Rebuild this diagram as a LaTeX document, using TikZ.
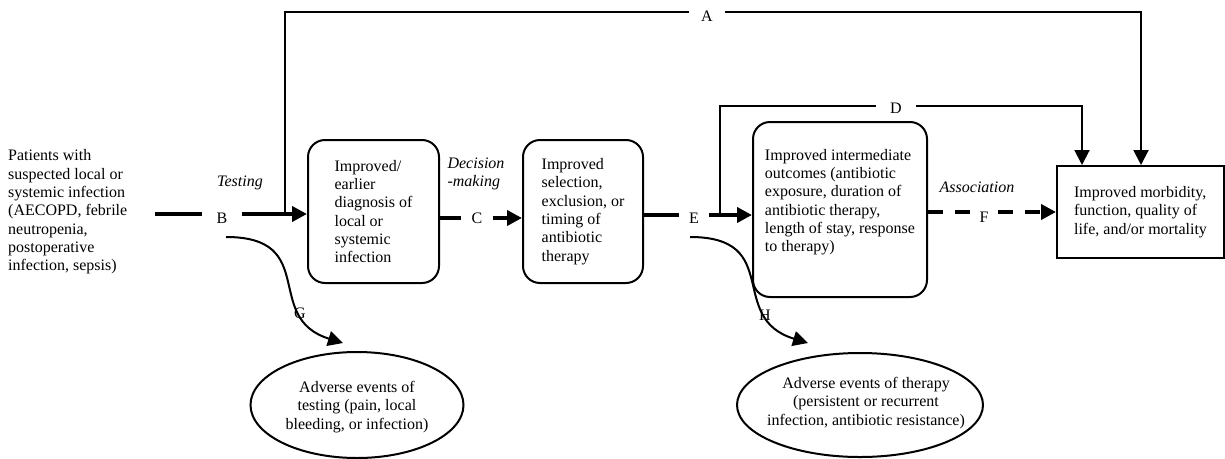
\documentclass[tikz,border=0pt]{standalone}
\usepackage{fontspec}
\setmainfont{Liberation Serif}
\usetikzlibrary{arrows.meta,shapes.geometric}
\begin{document}
\begin{tikzpicture}[x=1pt,y=-1pt,
  every node/.style={font=\fontsize{16}{18.3}\selectfont},
  rbox/.style={draw,line width=2pt,rounded corners=17pt,align=left,inner ysep=0pt},
  sbox/.style={draw,line width=2pt,align=left,inner ysep=0pt},
  oval/.style={draw,ellipse,line width=2pt,inner sep=0pt},
  ovaltext/.style={align=center,inner sep=0pt},
  lab/.style={inner ysep=1pt},
  itlab/.style={font=\fontsize{16}{18.3}\selectfont\itshape,align=left,inner sep=0pt},
  tip/.style={-{Triangle[length=15pt,width=15pt]}},
  thickline/.style={line width=4pt},
  thickarrow/.style={line width=4pt,tip},
  thinline/.style={line width=2pt},
  thinarrow/.style={line width=2pt,tip},
  dashline/.style={line width=4pt,dash pattern=on 15pt off 12pt},
  dasharrow/.style={line width=4pt,dash pattern=on 15pt off 12pt,tip},
  curvearrow/.style={line width=2pt,tip}
]
\useasboundingbox (0,0) rectangle (1225,458);

% main nodes
\node[align=left,anchor=west,inner sep=0pt] (pat) at (8,212)
  {Patients with\\suspected local or\\systemic infection\\(AECOPD, febrile\\neutropenia,\\postoperative\\infection, sepsis)};
\node[rbox,minimum width=131pt,minimum height=143pt] (box1) at (373.5,211.5)
  {Improved/\\earlier\\diagnosis of\\local or\\systemic\\infection};
\node[rbox,minimum width=120pt,minimum height=143pt] (box2) at (583,211.5)
  {Improved\\selection,\\exclusion, or\\timing of\\antibiotic\\therapy};
\node[rbox,minimum width=174pt,minimum height=175pt] (box3) at (840,209.5)
  {Improved intermediate\\outcomes (antibiotic\\exposure, duration of\\antibiotic therapy,\\length of stay, response\\to therapy)\\\mbox{}};
\node[sbox,minimum width=167pt,minimum height=92pt] (box4) at (1140.5,212)
  {Improved morbidity,\\function, quality of\\life, and/or mortality};
\node[oval,minimum width=213pt,minimum height=106pt] (ae1) at (357,405) {};
\node[ovaltext] (ae1t) at (357,407)
  {Adverse events of\\testing (pain, local\\bleeding, or infection)};
\node[oval,minimum width=246pt,minimum height=104pt] (ae2) at (860,405) {};
\node[ovaltext] (ae2t) at (866,403)
  {Adverse events of therapy\\(persistent or recurrent\\infection, antibiotic resistance)};

% labels
\node[itlab] (testing) at (240,183) {Testing};
\node[itlab] (dm) at (476,174) {Decision\\-making};
\node[itlab] (assoc) at (977,187) {Association};
\node[lab,inner xsep=14pt] (B) at (222,218) {B};
\node[lab,inner xsep=10pt] (C) at (477,218) {C};
\node[lab,inner xsep=10pt] (E) at (694,218) {E};
\node[lab,inner xsep=9pt] (F) at (984,217) {F};
\node[lab,inner xsep=14pt] (D) at (896,108) {D};
\node[lab,inner xsep=12pt] (A) at (707,16) {A};
\node[inner sep=0pt] (G) at (300,313) {G};
\node[inner sep=0pt] (H) at (765,315) {H};

% coordinates
\coordinate (p1) at (155,214);
\coordinate (a0) at (285,214);
\coordinate (a1) at (285,12);
\coordinate (a2) at (1141,12);
\coordinate (e0) at (720,215);
\coordinate (d1) at (720,106);
\coordinate (d2) at (1082,106);
\coordinate (f0) at (930,212);
\coordinate (g0) at (226,237);
\coordinate (g1) at (343,343);
\coordinate (h0) at (690,237);
\coordinate (h1) at (808,343);

% connectors
\draw[thickline] (p1) -- (B.west |- p1);
\draw[thickarrow] (B.east |- p1) -- (box1.west |- p1);
\draw[thinline] (a0) -- (a1) -- (A.west |- a1);
\draw[thinarrow] (A.east |- a1) -- (a2) -- (a2 |- box4.north);
\draw[thickline] (box1.east |- C) -- (C.west);
\draw[thickarrow] (C.east) -- (box2.west |- C);
\draw[thickline] (box2.east |- e0) -- (E.west |- e0);
\draw[thickarrow] (E.east |- e0) -- (box3.west |- e0);
\draw[thinline] (e0) -- (d1) -- (D.west |- d1);
\draw[thinarrow] (D.east |- d1) -- (d2) -- (d2 |- box4.north);
\draw[dashline] (box3.east |- f0) -- (F.west |- f0);
\draw[dasharrow] (F.east |- f0) -- (box4.west |- f0);
\draw[curvearrow] (g0) .. controls (320,237) and (262,318) .. (g1);
\draw[curvearrow] (h0) .. controls (784,237) and (726,318) .. (h1);
\end{tikzpicture}
\end{document}
